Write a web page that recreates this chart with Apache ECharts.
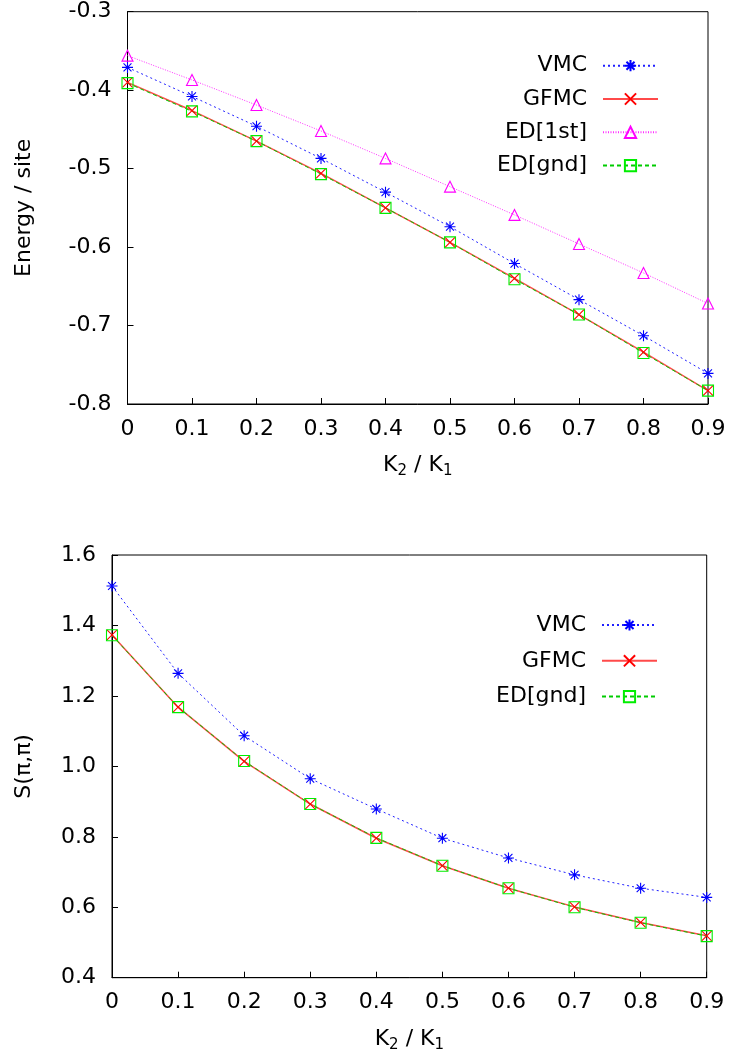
<!DOCTYPE html>
<html><head><meta charset="utf-8">
<script src="https://cdn.jsdelivr.net/npm/echarts@6/dist/echarts.min.js"></script>
<style>html,body{margin:0;padding:0;background:#fff}#c{width:731px;height:1059px}</style>
</head><body><div id="c"></div>
<script>
// ---- data ----
const xVals = [0, 0.1, 0.2, 0.3, 0.4, 0.5, 0.6, 0.7, 0.8, 0.9];
const energyVMC   = [-0.371, -0.408, -0.446, -0.487, -0.530, -0.574, -0.621, -0.667, -0.713, -0.761];
const energyGFMC  = [-0.390, -0.426, -0.465, -0.506, -0.550, -0.594, -0.640, -0.686, -0.734, -0.783];
const energyED1st = [-0.356, -0.387, -0.419, -0.452, -0.487, -0.523, -0.559, -0.596, -0.633, -0.672];
const energyEDgnd = [-0.391, -0.427, -0.465, -0.507, -0.550, -0.594, -0.641, -0.686, -0.735, -0.783];
const sVMC   = [1.512, 1.264, 1.087, 0.965, 0.879, 0.796, 0.740, 0.692, 0.654, 0.628];
const sGFMC  = [1.373, 1.168, 1.014, 0.893, 0.796, 0.718, 0.654, 0.601, 0.557, 0.519];
const sEDgnd = [1.372, 1.168, 1.015, 0.893, 0.797, 0.718, 0.654, 0.600, 0.556, 0.518];
const legendTop = ['VMC', 'GFMC', 'ED[1st]', 'ED[gnd]'];
const legendBottom = ['VMC', 'GFMC', 'ED[gnd]'];
const yTitleTop = 'Energy / site';
const yTitleBottom = 'S(\u03c0,\u03c0)';

// ---- styles ----
const FONT = 'DejaVu Sans';
const FS = 22;
const STAR = 'path://M0,-5L0,5M-5,0L5,0M-3.6,-3.6L3.6,3.6M-3.6,3.6L3.6,-3.6';
const CROSS = 'path://M-5,-5L5,5M-5,5L5,-5';
const styles = {
  'VMC':     {color: '#0000ff', lineColor: '#2020ff', width: 1, type: [2, 3], symbol: STAR, size: 11},
  'GFMC':    {color: '#ff0000', lineColor: '#ff4a4a', width: 1.5, type: 'solid', symbol: CROSS, size: 10},
  'ED[1st]': {color: '#ff00ff', lineColor: '#ff30ff', width: 1, type: [1, 1.5], symbol: 'triangle', size: 11},
  'ED[gnd]': {color: '#00ee00', lineColor: '#00cc00', width: 1, type: [4, 3], symbol: 'rect', size: 11}
};

function mk(name, vals, idx) {
  const s = styles[name];
  return {
    type: 'line', name: name, xAxisIndex: idx, yAxisIndex: idx,
    data: xVals.map((x, i) => [x, vals[i]]),
    symbol: s.symbol, symbolSize: s.size, showAllSymbol: true, clip: false,
    lineStyle: {color: s.lineColor, width: s.width, type: s.type},
    itemStyle: {color: 'rgba(0,0,0,0)', borderColor: s.color, borderWidth: 1.1},
    emphasis: {disabled: true}
  };
}

function xAxis(idx) {
  return {
    type: 'value', gridIndex: idx, min: 0, max: 0.9, interval: 0.1,
    axisLine: {show: true, lineStyle: {color: '#000', width: 1}},
    axisTick: {show: true, inside: true, length: 6, lineStyle: {color: '#000'}},
    axisLabel: {color: '#000', fontFamily: FONT, fontSize: FS, margin: 14,
      formatter: v => (Math.abs(v) < 1e-9 ? '0' : v.toFixed(1))},
    splitLine: {show: false},
    name: 'K{sub|2} / K{sub|1}', nameLocation: 'middle', nameGap: 48,
    nameTextStyle: {color: '#000', fontFamily: FONT, fontSize: FS,
      rich: {sub: {fontFamily: FONT, fontSize: 15, color: '#000', padding: [12, 0, 0, 0]}}}
  };
}

function yAxis(idx, min, max, interval, title, gap) {
  return {
    type: 'value', gridIndex: idx, min: min, max: max, interval: interval,
    axisLine: {show: true, lineStyle: {color: '#000', width: 1}},
    axisTick: {show: true, inside: true, length: 6, lineStyle: {color: '#000'}},
    axisLabel: {color: '#000', fontFamily: FONT, fontSize: FS, margin: 16,
      formatter: v => v.toFixed(1)},
    splitLine: {show: false},
    name: title, nameLocation: 'middle', nameRotate: 90, nameGap: gap,
    nameTextStyle: {color: '#000', fontFamily: FONT, fontSize: FS}
  };
}

function legend(data, top, right, gap) {
  return {
    data: data, orient: 'vertical', align: 'right', top: top, right: right,
    padding: 0, itemGap: gap, itemWidth: 55, itemHeight: 14,
    selectedMode: false,
    textStyle: {color: '#000', fontFamily: FONT, fontSize: FS, lineHeight: 24, padding: [0, 11, 0, 0]}
  };
}

const chart = echarts.init(document.getElementById('c'), null, {renderer: 'canvas'});
chart.setOption({
  animation: false,
  backgroundColor: '#fff',
  grid: [
    {left: 127.5, top: 11.7, width: 580.5, height: 392.3, show: true, borderColor: '#000', borderWidth: 1, backgroundColor: 'transparent'},
    {left: 112, top: 555, width: 594.7, height: 422.7, show: true, borderColor: '#000', borderWidth: 1, backgroundColor: 'transparent'}
  ],
  xAxis: [xAxis(0), xAxis(1)],
  yAxis: [yAxis(0, -0.8, -0.3, 0.1, yTitleTop, 92), yAxis(1, 0.4, 1.6, 0.2, yTitleBottom, 77)],
  legend: [legend(legendTop, 53.7, 72, 9.3), legend(legendBottom, 613, 73, 11.8)],
  series: [
    mk('VMC', energyVMC, 0),
    mk('GFMC', energyGFMC, 0),
    mk('ED[1st]', energyED1st, 0),
    mk('ED[gnd]', energyEDgnd, 0),
    mk('VMC', sVMC, 1),
    mk('GFMC', sGFMC, 1),
    mk('ED[gnd]', sEDgnd, 1)
  ]
});
</script></body></html>
